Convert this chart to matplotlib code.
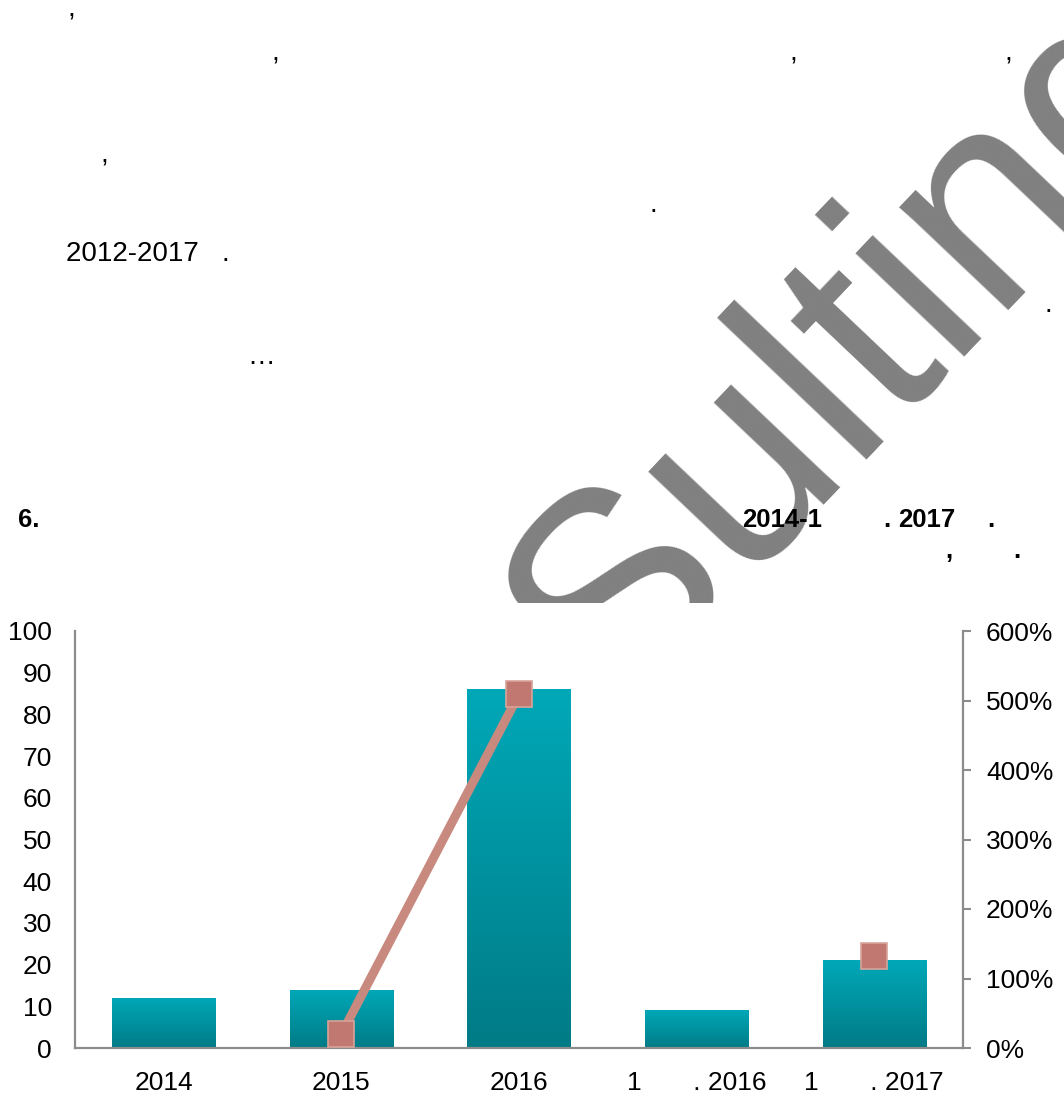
"""
Bar + line chart (volumes and growth rate, 2014 - 1 q. 2017)
recreated with matplotlib.
"""

import numpy as np
import matplotlib
matplotlib.use("Agg")
import matplotlib.pyplot as plt
from matplotlib.colors import LinearSegmentedColormap
from matplotlib.patches import Rectangle

# data
categories = ["2014", "2015", "2016", "1       . 2016", "1       . 2017"]
volumes = [12, 14, 86, 9, 21]
growth_pct = [np.nan, 20, 509, np.nan, 133]
left_ticks = list(range(0, 101, 10))
right_ticks = list(range(0, 601, 100))

W, H = 1064, 1097
plt.rcParams["font.family"] = ["Liberation Sans", "DejaVu Sans"]


def fx(px):
    return px / W


def fy(py):
    return (H - py) / H


def main():
    fig = plt.figure(figsize=(W / 100, H / 100), dpi=100)

    # watermark behind everything, cut off where the chart picture starts
    fig.text(fx(610), fy(716), "Sulting", rotation=46.5, rotation_mode="anchor",
             ha="left", va="baseline", fontsize=205, color="#808080",
             zorder=-2)
    fig.patches.append(Rectangle((0, 0), 1, fy(603), transform=fig.transFigure,
                                 facecolor="white", edgecolor="none",
                                 zorder=-1))

    # text fragments above the chart
    body = dict(fontsize=20, color="black", va="baseline")
    for x, y in [(71, 16), (275, 61), (793, 61), (1008, 61), (104, 163)]:
        fig.text(fx(x), fy(y), ",", ha="center", **body)
    fig.text(fx(653), fy(212), ".", ha="center", **body)
    fig.text(fx(66), fy(261), "2012-2017   .", ha="left", **body)
    fig.text(fx(1048), fy(312), ".", ha="center", **body)
    fig.text(fx(261), fy(364), "\u2026", ha="center", **body)

    bold = dict(fontsize=18.5, color="black", va="baseline", weight="bold")
    fig.text(fx(18), fy(527), "6.", ha="left", **bold)
    fig.text(fx(742), fy(527), "2014-1", ha="left", **bold)
    fig.text(fx(887), fy(527), ".", ha="center", **bold)
    fig.text(fx(898), fy(527), "2017", ha="left", **bold)
    fig.text(fx(991), fy(527), ".", ha="center", **bold)
    fig.text(fx(949), fy(558), ",", ha="center", **bold)
    fig.text(fx(1017), fy(558), ".", ha="center", **bold)

    # chart
    ax = fig.add_axes([fx(75), fy(1048), fx(963) - fx(75), fy(631) - fy(1048)])
    x = np.arange(len(categories))
    bars = ax.bar(x, volumes, width=0.58, facecolor="none", edgecolor="none")
    cmap = LinearSegmentedColormap.from_list("teal", ["#007B86", "#00A8B8"])
    grad = np.linspace(0, 1, 256).reshape(-1, 1)
    for b in bars:
        x0, w, h = b.get_x(), b.get_width(), b.get_height()
        im = ax.imshow(grad, cmap=cmap, origin="lower", aspect="auto",
                       extent=(x0, x0 + w, 0, h), zorder=2)
        im.set_clip_path(b)

    ax.set_xlim(-0.5, len(categories) - 0.5)
    ax.set_ylim(0, 100)
    ax.set_yticks(left_ticks)
    ax.set_xticks(x)
    ax.set_xticklabels(categories)
    ax.tick_params(axis="y", length=0, pad=16.5, labelsize=19)
    ax.tick_params(axis="x", length=0, pad=16.5, labelsize=19)
    for s in ["top", "right"]:
        ax.spines[s].set_visible(False)
    for s in ["left", "bottom"]:
        ax.spines[s].set_color("#8c8c8c")
        ax.spines[s].set_linewidth(1.6)

    ax2 = ax.twinx()
    ax2.plot(x, growth_pct, color="#C8897F", linewidth=6.5, marker="s",
             markersize=18.5, markerfacecolor="#C07870",
             markeredgecolor="#D9A39B", markeredgewidth=1.2, clip_on=False,
             solid_capstyle="butt", zorder=3)
    ax2.set_ylim(0, 600)
    ax2.set_yticks(right_ticks)
    ax2.set_yticklabels([f"{v}%" for v in right_ticks])
    ax2.tick_params(axis="y", length=5.8, width=1.5, color="#8c8c8c",
                    pad=10.8, labelsize=19)
    for s in ["top", "left", "bottom"]:
        ax2.spines[s].set_visible(False)
    ax2.spines["right"].set_color("#8c8c8c")
    ax2.spines["right"].set_linewidth(1.6)

    fig.savefig("out.png", dpi=100, facecolor="white")


if __name__ == "__main__":
    main()
